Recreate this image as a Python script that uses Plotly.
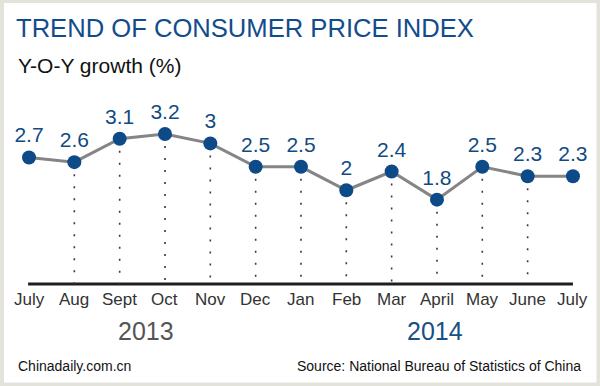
import plotly.graph_objects as go

months = ["July", "Aug", "Sept", "Oct", "Nov", "Dec", "Jan", "Feb", "Mar", "April", "May", "June", "July"]
cpi = [2.7, 2.6, 3.1, 3.2, 3.0, 2.5, 2.5, 2.0, 2.4, 1.8, 2.5, 2.3, 2.3]
labels = ["2.7", "2.6", "3.1", "3.2", "3", "2.5", "2.5", "2", "2.4", "1.8", "2.5", "2.3", "2.3"]
years = ["2013", "2014"]

W, H = 600, 386
FONT = "Arial, Liberation Sans, sans-serif"
BLUE = "#0e4a87"

x = list(range(len(months)))

# dotted drop lines (skip first and last point)
dx, dy = [], []
for i in x[1:-1]:
    dx += [i, i, None]
    dy += [cpi[i], 0, None]

fig = go.Figure()
fig.add_trace(go.Scatter(x=dx, y=dy, mode="lines",
                         line=dict(color="#3a3a3a", width=1.6, dash="2px,10px"),
                         hoverinfo="skip", showlegend=False))
fig.add_trace(go.Scatter(x=x, y=cpi, mode="lines+markers+text",
                         line=dict(color="#858585", width=3),
                         marker=dict(size=14, color=BLUE),
                         text=labels, textposition="top center",
                         textfont=dict(family=FONT, size=21, color="#124a82"),
                         showlegend=False))

px_per_unit = 46.875
zero_px = 284
x0_px, step_px = 29, 45.33

fig.update_xaxes(range=[-x0_px / step_px, (W - x0_px) / step_px], visible=False)
fig.update_yaxes(range=[-(H - zero_px) / px_per_unit, zero_px / px_per_unit], visible=False)

shapes = [
    dict(type="line", xref="x", yref="y", x0=x[0] - 0.02, x1=x[-1], y0=0, y1=0,
         line=dict(color="#1e1e1e", width=3), layer="below"),
    dict(type="rect", xref="paper", yref="paper", x0=2 / W, x1=(W - 1.5) / W,
         y0=1.5 / H, y1=(H - 1) / H, line=dict(color="#e3e3dc", width=4)),
]

ann = []
for i, m in enumerate(months):
    ann.append(dict(x=i, y=0, xref="x", yref="y", text=m, showarrow=False,
                    yanchor="middle", yshift=-15,
                    font=dict(family=FONT, size=17, color="#333333")))

def paper_y(py):
    return 1 - py / H

ann += [
    dict(x=14 / W, y=paper_y(28), xref="paper", yref="paper", xanchor="left", yanchor="middle",
         text="TREND OF CONSUMER PRICE INDEX", showarrow=False,
         font=dict(family=FONT, size=25.6, color="#124c8c")),
    dict(x=16 / W, y=paper_y(66), xref="paper", yref="paper", xanchor="left", yanchor="middle",
         text="Y-O-Y growth (%)", showarrow=False,
         font=dict(family=FONT, size=21, color="#111111")),
    dict(x=146 / W, y=paper_y(331), xref="paper", yref="paper", xanchor="center", yanchor="middle",
         text=years[0], showarrow=False,
         font=dict(family=FONT, size=25, color="#555555")),
    dict(x=435 / W, y=paper_y(331), xref="paper", yref="paper", xanchor="center", yanchor="middle",
         text=years[1], showarrow=False,
         font=dict(family=FONT, size=25, color="#174f86")),
    dict(x=16 / W, y=paper_y(366), xref="paper", yref="paper", xanchor="left", yanchor="middle",
         text="Chinadaily.com.cn", showarrow=False,
         font=dict(family=FONT, size=14, color="#111111")),
    dict(x=583 / W, y=paper_y(366), xref="paper", yref="paper", xanchor="right", yanchor="middle",
         text="Source: National Bureau of Statistics of China", showarrow=False,
         font=dict(family=FONT, size=14, color="#111111")),
]

fig.update_layout(width=W, height=H, margin=dict(l=0, r=0, t=0, b=0, pad=0),
                  paper_bgcolor="white", plot_bgcolor="white",
                  shapes=shapes, annotations=ann, showlegend=False)

fig.write_html("out.html", config={"displayModeBar": False},
               post_script="document.body.style.margin='0';document.body.style.overflow='hidden';")
